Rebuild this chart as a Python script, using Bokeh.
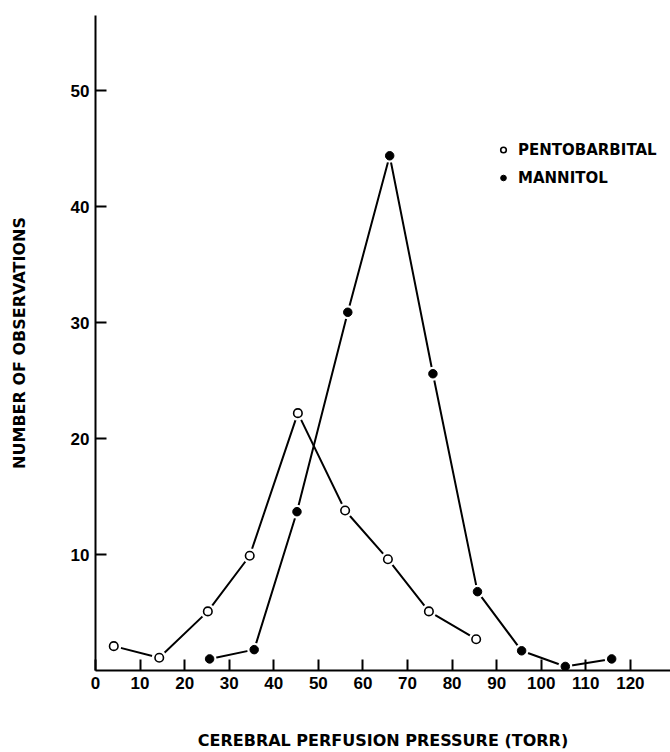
from bokeh.plotting import figure
from bokeh.models import Range1d, FixedTicker, Legend, LegendItem
from bokeh.embed import file_html
from bokeh.resources import INLINE

# Data
pento_x = [4.1, 14.3, 25.2, 34.6, 45.4, 56.0, 65.6, 74.8, 85.4]
pento_y = [2.1, 1.1, 5.1, 9.9, 22.2, 13.8, 9.6, 5.1, 2.7]
mann_x = [25.6, 35.6, 45.2, 56.6, 66.0, 75.7, 85.7, 95.6, 105.4, 115.8]
mann_y = [1.0, 1.8, 13.7, 30.9, 44.4, 25.6, 6.8, 1.7, 0.35, 1.0]
x_ticks = [0, 10, 20, 30, 40, 50, 60, 70, 80, 90, 100, 110, 120]
y_ticks = [10, 20, 30, 40, 50]

TICK_FONT = "Liberation Sans"
TITLE_FONT = "DejaVu Sans"

p = figure(width=670, height=752, output_backend="svg", toolbar_location=None,
           x_range=Range1d(0, 129.0), y_range=Range1d(0, 56.5),
           min_border_left=95, min_border_right=0, min_border_top=15,
           min_border_bottom=82)
p.outline_line_color = None
p.grid.visible = False
p.background_fill_color = "white"

# lines
p.line(pento_x, pento_y, line_color="black", line_width=2)
p.line(mann_x, mann_y, line_color="black", line_width=2)
# white halos to create gaps at markers
p.scatter(pento_x, pento_y, size=15, fill_color="white", line_color=None)
p.scatter(mann_x, mann_y, size=14, fill_color="white", line_color=None)
r_p = p.scatter(pento_x, pento_y, size=8.5, fill_color="white", line_color="black", line_width=1.6)
r_m = p.scatter(mann_x, mann_y, size=8.5, fill_color="black", line_color="black", line_width=1)

for ax in (p.xaxis[0], p.yaxis[0]):
    ax.axis_line_width = 2
    ax.axis_line_color = "black"
    ax.major_tick_line_width = 2
    ax.major_tick_in = 11
    ax.major_tick_out = 0
    ax.minor_tick_in = 0
    ax.minor_tick_out = 0
    ax.major_label_text_font = TICK_FONT
    ax.major_label_text_font_style = "bold"
    ax.major_label_text_font_size = "17px"
    ax.major_label_text_color = "black"
    ax.axis_label_text_font = TITLE_FONT
    ax.axis_label_text_font_style = "bold"
    ax.axis_label_text_color = "black"

p.xaxis.axis_label_text_font_size = "16px"
p.yaxis.axis_label_text_font_size = "16px"
p.xaxis.ticker = FixedTicker(ticks=x_ticks)
p.yaxis.ticker = FixedTicker(ticks=y_ticks)
p.xaxis.major_label_standoff = 6
p.yaxis.major_label_standoff = 6
p.xaxis.axis_label_standoff = 39
p.yaxis.axis_label_standoff = 39
p.xaxis.axis_label = "CEREBRAL PERFUSION PRESSURE (TORR)"
p.yaxis.axis_label = "NUMBER OF OBSERVATIONS"

legend = Legend(items=[LegendItem(label="PENTOBARBITAL", renderers=[r_p]),
                       LegendItem(label="MANNITOL", renderers=[r_m])],
                location=(401, 480), padding=0, margin=0, spacing=3,
                glyph_width=14, glyph_height=25, label_height=25,
                label_standoff=8, border_line_color=None,
                background_fill_alpha=0,
                label_text_font=TITLE_FONT, label_text_font_style="bold",
                label_text_font_size="15px", label_text_color="black")
p.add_layout(legend, "center")

open("out.html", "w").write(file_html(p, INLINE))
